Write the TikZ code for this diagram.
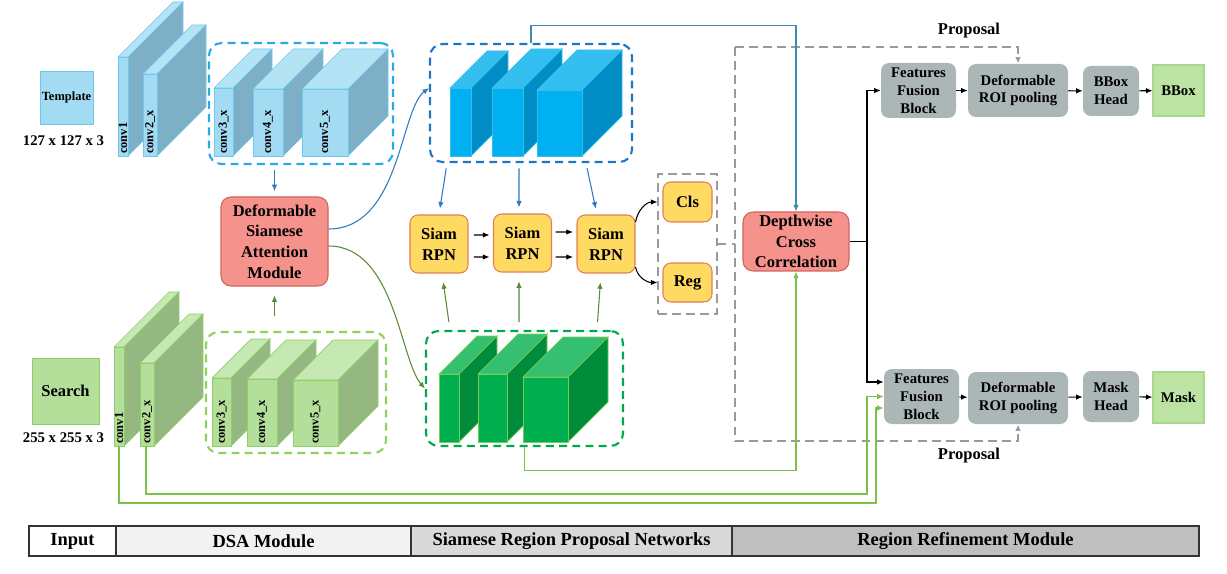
\documentclass[tikz,border=0pt]{standalone}
\usepackage{fontspec}
\setmainfont{Liberation Serif}
\usetikzlibrary{arrows.meta}

\definecolor{tbfront}{HTML}{A3DBF3}
\definecolor{tbside}{HTML}{7DB0C6}
\definecolor{tbtop}{HTML}{B5E3F6}
\definecolor{tbedge}{HTML}{6FC8EF}
\definecolor{sgfront}{HTML}{B4DF9A}
\definecolor{sgside}{HTML}{95B882}
\definecolor{sgtop}{HTML}{C6E8B2}
\definecolor{sgedge}{HTML}{8FD066}
\definecolor{bbfront}{HTML}{00B0F0}
\definecolor{bbside}{HTML}{008DC5}
\definecolor{bbtop}{HTML}{35BFF0}
\definecolor{bbedge}{HTML}{35BFF0}
\definecolor{ggfront}{HTML}{00AF4F}
\definecolor{ggside}{HTML}{008D3B}
\definecolor{ggtop}{HTML}{35BF70}
\definecolor{ggedge}{HTML}{7ACB55}
\definecolor{salmon}{HTML}{F4928B}
\definecolor{salmonedge}{HTML}{D2645E}
\definecolor{siamfill}{HTML}{FFDA63}
\definecolor{siamedge}{HTML}{E07E5B}
\definecolor{rrmfill}{HTML}{ABB7B6}
\definecolor{outfill}{HTML}{BCE2A4}
\definecolor{outedge}{HTML}{A6D98A}
\definecolor{dashblue}{HTML}{2AAAE2}
\definecolor{dashlgreen}{HTML}{8DD35F}
\definecolor{dashdblue}{HTML}{1F77C3}
\definecolor{dashdgreen}{HTML}{00A84F}
\definecolor{arrblue}{HTML}{2E78C0}
\definecolor{arrdgreen}{HTML}{5A8A32}
\definecolor{arrlgreen}{HTML}{7CC14A}
\definecolor{arrteal}{HTML}{3A8CB0}
\definecolor{propgray}{HTML}{9A9A9A}
\definecolor{barA}{HTML}{F2F2F2}
\definecolor{barB}{HTML}{D9D9D9}
\definecolor{barC}{HTML}{BFBFBF}

\newcommand\cuboid[6]{%
  \draw[#6edge, fill=#6top, line width=0.4pt] (#1,#2) -- ++(#5,-#5) -- ++(#3,0) -- ++(-#5,#5) -- cycle;
  \draw[#6edge, fill=#6side, line width=0.4pt] (#1+#3,#2) -- ++(#5,-#5) -- ++(0,#4) -- ++(-#5,#5) -- cycle;
  \draw[#6edge, fill=#6front, line width=0.4pt] (#1,#2) rectangle ++(#3,#4);
}

\tikzset{
  wh/.style 2 args={minimum width=#1*0.02cm, minimum height=#2*0.02cm, inner sep=0pt},
  bigtxt/.style={font=\fontsize{9.4}{11.8}\selectfont\bfseries, align=center},
  smalltxt/.style={font=\fontsize{8.4}{10.1}\selectfont\bfseries, align=center},
  convtxt/.style={font=\fontsize{7.1}{8}\selectfont\bfseries, rotate=90, anchor=west, inner sep=1pt},
  dsabox/.style={draw=salmonedge, fill=salmon, rounded corners=0.2cm, bigtxt, line width=0.6pt},
  siambox/.style={draw=siamedge, fill=siamfill, rounded corners=0.16cm, bigtxt, line width=0.6pt},
  rrmbox/.style={fill=rrmfill, rounded corners=0.16cm, smalltxt},
  outbox/.style={draw=outedge, fill=outfill, smalltxt, line width=0.6pt},
  grp/.style={rounded corners=0.25cm, line width=1.2pt, dash pattern=on 4.5pt off 3pt},
  arr/.style={-{Latex[length=1.3mm,width=1.1mm]}, line width=0.6pt},
  prop/.style={propgray, line width=0.8pt, dash pattern=on 5pt off 3pt},
  cell/.style={draw=black!80, line width=0.7pt, font=\fontsize{10.5}{12}\selectfont\bfseries}
}

\begin{document}
\begin{tikzpicture}[x=0.02cm, y=-0.02cm]
  \useasboundingbox (0,0) rectangle (1227,574);

  \node[wh={53}{53}, draw=tbedge, fill=tbfront, font=\fontsize{7.1}{8}\selectfont\bfseries] (tpl) at (66.5,97.5) {Template};
  \node[smalltxt] (tplsize) at (63.5,141) {127 x 127 x 3};
  \node[wh={67}{66}, draw=sgedge, fill=sgfront, bigtxt] (srch) at (65.5,391) {Search};
  \node[smalltxt] (srchsize) at (63.5,438) {255 x 255 x 3};

  \node[wh={184}{121}, grp, draw=dashblue] (tplgrp) at (301,103.5) {};
  \node[wh={180}{121}, grp, draw=dashlgreen] (srchgrp) at (296,392.5) {};
  \node[wh={202}{118}, grp, draw=dashdblue] (bluegrp) at (531,103) {};
  \node[wh={197}{115}, grp, draw=dashdgreen] (greengrp) at (524.5,388.5) {};

  \cuboid{118}{57}{10}{99}{55}{tb}
  \cuboid{143}{74}{14}{82}{49}{tb}
  \cuboid{214}{88}{19}{68}{39}{tb}
  \cuboid{253}{89}{30}{67}{40}{tb}
  \cuboid{302}{89}{46}{67}{40}{tb}
  \node[convtxt] (tc1) at (123,156) {conv1};
  \node[convtxt] (tc2) at (150,156) {conv2\_x};
  \node[convtxt] (tc3) at (223.5,156) {conv3\_x};
  \node[convtxt] (tc4) at (268,156) {conv4\_x};
  \node[convtxt] (tc5) at (325,156) {conv5\_x};

  \cuboid{114}{347}{10}{99}{55}{sg}
  \cuboid{140}{363}{14}{83}{49}{sg}
  \cuboid{212}{378}{19}{68}{39}{sg}
  \cuboid{247}{379}{30}{67}{39}{sg}
  \cuboid{293}{380}{45}{66}{40}{sg}
  \node[convtxt] (sc1) at (119,446) {conv1};
  \node[convtxt] (sc2) at (147,446) {conv2\_x};
  \node[convtxt] (sc3) at (221.5,446) {conv3\_x};
  \node[convtxt] (sc4) at (262,446) {conv4\_x};
  \node[convtxt] (sc5) at (315.5,446) {conv5\_x};

  \cuboid{450}{88}{21}{68}{37}{bb}
  \cuboid{492}{88}{31}{68}{39}{bb}
  \cuboid{537}{90}{45}{66}{40}{bb}

  \cuboid{439}{374}{20}{68}{38}{gg}
  \cuboid{478}{374}{29}{68}{40}{gg}
  \cuboid{523}{377}{45}{65}{40}{gg}

  \node[wh={107}{89}, dsabox] (dsa) at (274.5,241.5) {Deformable\\Siamese\\Attention\\Module};
  \node[wh={58}{58}, siambox] (siam1) at (439,244) {Siam\\RPN};
  \node[wh={58}{58}, siambox] (siam2) at (522.5,243) {Siam\\RPN};
  \node[wh={58}{58}, siambox] (siam3) at (606,244) {Siam\\RPN};
  \node[wh={59}{140}, draw=propgray, line width=0.8pt, dash pattern=on 5pt off 3pt] (clsgrp) at (687.5,244) {};
  \node[wh={49}{40}, siambox] (cls) at (687.5,202) {Cls};
  \node[wh={49}{39}, siambox] (reg) at (687.5,282.5) {Reg};
  \node[wh={106}{59}, dsabox] (dwc) at (796,241.5) {Depthwise\\Cross\\Correlation};

  \node[wh={75}{55}, rrmbox] (ffbA) at (918.5,90.5) {Features\\Fusion\\Block};
  \node[wh={100}{53}, rrmbox] (droiA) at (1018,90.5) {Deformable\\ROI pooling};
  \node[wh={56}{50}, rrmbox] (bhA) at (1111,91) {BBox\\Head};
  \node[wh={51}{51}, outbox] (bboxA) at (1178.5,90.5) {BBox};
  \node[wh={75}{55}, rrmbox] (ffbB) at (921.5,396.5) {Features\\Fusion\\Block};
  \node[wh={100}{52}, rrmbox] (droiB) at (1018,398) {Deformable\\ROI pooling};
  \node[wh={56}{51}, rrmbox] (mhB) at (1111,396.5) {Mask\\Head};
  \node[wh={51}{51}, outbox] (maskB) at (1178.5,397.5) {Mask};
  \node[bigtxt] (propA) at (969,31) {Proposal};
  \node[bigtxt] (propB) at (969,456) {Proposal};

  \node[cell, fill=white, wh={87}{30}] (barin) at (72.5,541) {Input};
  \node[cell, fill=barA, wh={295}{30}] (bardsa) at (263.5,541) {DSA Module};
  \node[cell, fill=barB, wh={321}{30}] (barrpn) at (571.5,541) {Siamese Region Proposal Networks};
  \node[cell, fill=barC, wh={467}{30}] (barrrm) at (965.5,541) {Region Refinement Module};

  \coordinate (ptop) at (735,47);
  \coordinate (pbot) at (735,441);
  \coordinate (fork) at (867,241.5);
  \coordinate (sc1foot) at (119,446);
  \coordinate (sc2foot) at (146,446);

  \draw[arr, arrblue, shorten <=3pt, shorten >=3pt] (dsa.north |- tplgrp.south) -- (dsa.north);
  \draw[arr, arrdgreen, shorten <=8.5pt, shorten >=5pt] (dsa.south |- srchgrp.north) -- (dsa.south);
  \draw[arr, arrblue] ([yshift=0.25cm]dsa.east) .. controls (400,229) and (400,110) .. ([yshift=0.3cm]bluegrp.west);
  \draw[arr, arrdgreen] ([yshift=-0.09cm]dsa.east) .. controls (395,246) and (400,360) .. (greengrp.west);

  \draw[arr, arrblue, shorten <=3pt, shorten >=3.4pt] ([xshift=-1.68cm]bluegrp.south) -- (siam1.north);
  \draw[arr, arrblue, shorten <=3pt, shorten >=3.4pt] ([xshift=-0.24cm]bluegrp.south) -- ([xshift=-0.07cm]siam2.north);
  \draw[arr, arrblue, shorten <=3pt, shorten >=3.4pt] ([xshift=1.1cm]bluegrp.south) -- ([xshift=-0.18cm]siam3.north);
  \draw[arr, arrdgreen, shorten <=4.5pt, shorten >=5pt] ([xshift=-1.49cm]greengrp.north) -- ([xshift=0.06cm]siam1.south);
  \draw[arr, arrdgreen, shorten <=4.5pt, shorten >=5pt] ([xshift=-0.11cm]greengrp.north) -- ([xshift=-0.07cm]siam2.south);
  \draw[arr, arrdgreen, shorten <=4.5pt, shorten >=5pt] ([xshift=1.45cm]greengrp.north) -- ([xshift=-0.1cm]siam3.south);

  \draw[arr, shorten <=3pt, shorten >=2pt] ([yshift=0.18cm]siam1.east) -- ([yshift=0.16cm]siam2.west);
  \draw[arr, shorten <=3pt, shorten >=2pt] ([yshift=-0.26cm]siam1.east) -- ([yshift=-0.28cm]siam2.west);
  \draw[arr, shorten <=2pt, shorten >=2pt] ([yshift=0.22cm]siam2.east) -- ([yshift=0.24cm]siam3.west);
  \draw[arr, shorten <=2pt, shorten >=2pt] ([yshift=-0.28cm]siam2.east) -- ([yshift=-0.26cm]siam3.west);
  \draw[arr] ([yshift=0.44cm]siam3.east) to[out=80, in=180] ([xshift=-0.1cm]cls.west);
  \draw[arr] ([yshift=-0.46cm]siam3.east) to[out=-80, in=180] ([xshift=-0.1cm]reg.west);

  \draw[prop] (clsgrp.east) -- (clsgrp.east -| ptop);
  \draw[prop] (ptop) -- (pbot);
  \draw[arr, prop] (ptop) -| (droiA.north);
  \draw[arr, prop] (pbot) -| (droiB.south);

  \draw[arr, arrteal] (bluegrp.north) -- ++(0,-17) -| (dwc.north);
  \draw[arr, arrlgreen] (greengrp.south) -- ++(0,23) -| (dwc.south);

  \draw[line width=0.7pt] (dwc.east) -- (fork);
  \draw[arr] (fork) |- (ffbA.west);
  \draw[arr] (fork) |- ([yshift=0.29cm]ffbB.west);
  \draw[arr, arrlgreen] (sc2foot) |- (867,494) |- (ffbB.west);
  \draw[arr, arrlgreen] (sc1foot) |- (876,503) |- ([yshift=-0.23cm]ffbB.west);

  \draw[arr] (ffbA) -- (droiA);
  \draw[arr] (droiA) -- (bhA);
  \draw[arr] (bhA) -- (bboxA);
  \draw[arr] (ffbB) -- (droiB);
  \draw[arr] (droiB) -- (mhB);
  \draw[arr] (mhB) -- (maskB);
\end{tikzpicture}
\end{document}
